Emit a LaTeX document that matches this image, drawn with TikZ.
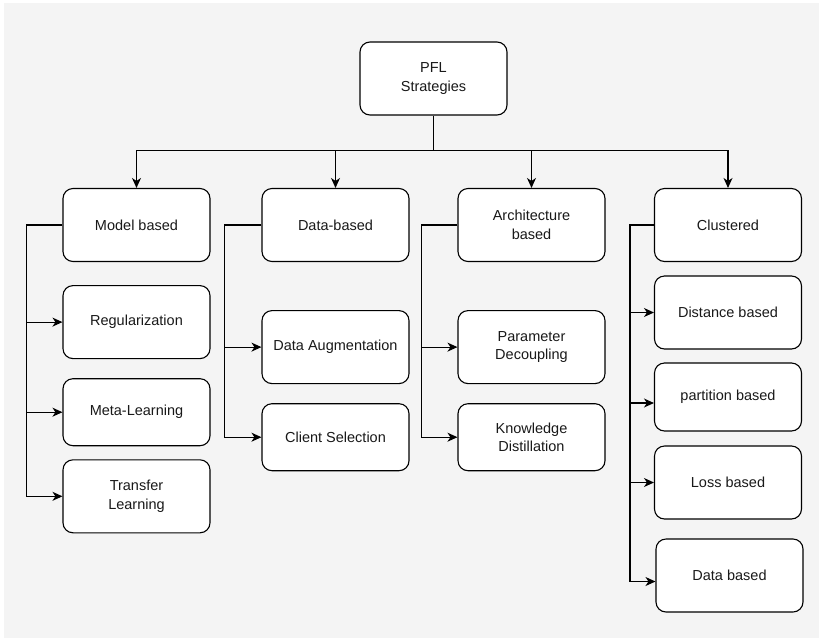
\documentclass[tikz,border=0pt]{standalone}
\usepackage{fontspec}
\setmainfont{Liberation Sans}
\usepackage{tikz}
\usetikzlibrary{positioning,arrows.meta}
\tikzset{caja/.style={draw,rounded corners=10pt,line width=1.1pt,fill=white,minimum width=147pt,minimum height=73pt,align=center,inner sep=2pt,font=\fontsize{14.5}{18.5}\selectfont,text=black!90}}
\tikzset{arista/.style={line width=1.1pt}}
\tikzset{flecha/.style={line width=1.1pt,-{Stealth[length=10pt,width=9pt,inset=3pt]}}}
\definecolor{fondogris}{RGB}{244,244,244}

\begin{document}
\begin{tikzpicture}[x=1pt,y=-1pt]
            \useasboundingbox (0,0) rectangle (819,638);
            \fill[fondogris] (4,3) rectangle (819,638);

            \node[caja] (pfl) at (433.5,78.5) {PFL\\Strategies};

            \node[caja] (model) at (136.5,225) {Model based};
            \node[caja] (data)  at (335.5,225) {Data-based};
            \node[caja] (arch)  at (531.5,225) {Architecture\\based};
            \node[caja] (clus)  at (728,225)   {Clustered};

            \node[caja, below=23pt of model] (reg) {Regularization};
            \node[caja, below=19pt of reg, minimum height=67pt] (meta) {Meta-Learning};
            \node[caja, below=13pt of meta] (transfer) {Transfer\\Learning};

            \node[caja, below=48pt of data] (aug) {Data Augmentation};
            \node[caja, below=19pt of aug, minimum height=67pt] (client) {Client Selection};

            \node[caja, below=48pt of arch] (param) {Parameter\\Decoupling};
            \node[caja, below=19pt of param, minimum height=67pt] (know) {Knowledge\\Distillation};

            \node[caja] (dist) at (728,312.5) {Distance based};
            \node[caja, minimum height=68pt] (part) at (728,397) {partition based};
            \node[caja] (loss) at (728,482.5) {Loss based};
            \node[caja] (datab) at (729.5,575.5) {Data based};

            % raiz
            \draw[arista] (pfl.south) -- ++(0,35) coordinate (bus);
            \draw[flecha] (bus) -| (model.north);
            \draw[flecha] (bus) -| (data.north);
            \draw[flecha] (bus) -| (arch.north);
            \draw[flecha] (bus) -| (clus.north);

            % ramas
            \draw[flecha] (model.west) -- ++(-36,0) coordinate (m0) |- (reg);
            \draw[flecha] (m0) |- (meta);
            \draw[flecha] (m0) |- (transfer);

            \draw[flecha] (data.west) -- ++(-37,0) coordinate (d0) |- (aug);
            \draw[flecha] (d0) |- (client);

            \draw[flecha] (arch.west) -- ++(-36,0) coordinate (a0) |- (param);
            \draw[flecha] (a0) |- (know);

            \draw[flecha] (clus.west) -- ++(-24,0) coordinate (c0) |- (dist);
            \draw[flecha] (c0) |- ([yshift=-6pt]part.west);
            \draw[flecha] (c0) |- (loss);
            \draw[flecha] (c0) |- ([yshift=-6pt]datab.west);
        \end{tikzpicture}
\end{document}
